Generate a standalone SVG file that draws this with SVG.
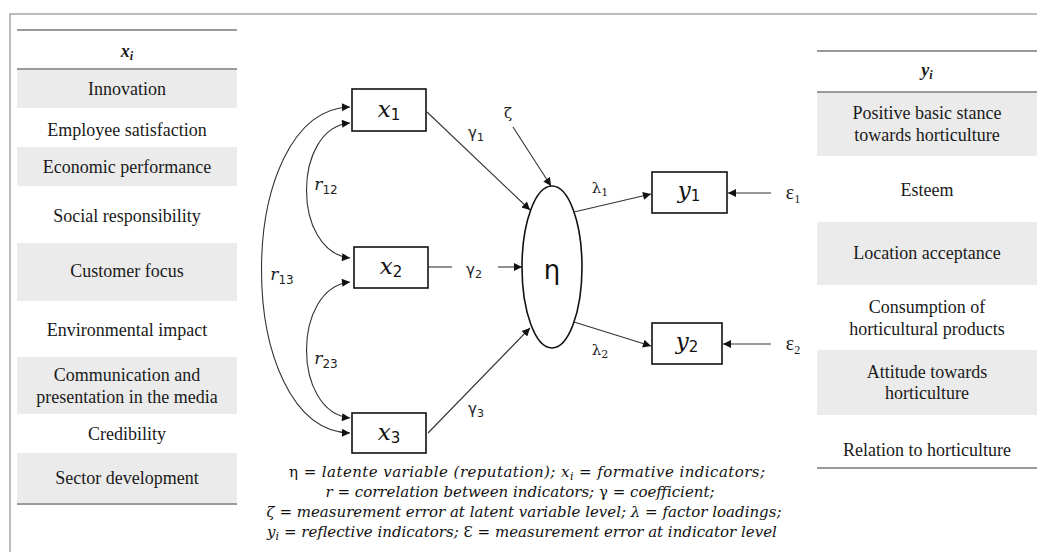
<svg xmlns="http://www.w3.org/2000/svg" width="1037" height="552" viewBox="0 0 1037 552">
<defs>
<marker id="ah" viewBox="0 0 10 10" refX="10" refY="5" markerWidth="10" markerHeight="8" markerUnits="userSpaceOnUse" orient="auto-start-reverse"><path d="M0,0 L10,5 L0,10 z" fill="#111"/></marker>
<style>
.tt{font-family:"Liberation Serif",serif;font-size:18px;fill:#1a1a1a;text-anchor:middle}
.band{fill:#ebebeb}
.rule{stroke:#9a9a9a;stroke-width:2;fill:none}
.box{fill:#fff;stroke:#111;stroke-width:1.6}
.var{font-family:"DejaVu Serif",serif;font-style:italic;font-size:23px;fill:#111;text-anchor:middle}
.sub{font-family:"DejaVu Sans",sans-serif;font-style:normal;font-size:15px}
.lbl{font-family:"DejaVu Sans",sans-serif;font-size:15px;fill:#222;text-anchor:middle}
.rl{font-family:"DejaVu Serif",serif;font-style:italic;font-size:17px;fill:#222;text-anchor:middle}
.rsub{font-family:"DejaVu Sans",sans-serif;font-style:normal;font-size:12px}
.cap{font-family:"DejaVu Serif",serif;font-style:italic;font-size:15px;fill:#111;text-anchor:middle}
.up{font-style:normal}
.conn{stroke:#333;stroke-width:1.1;fill:none;marker-end:url(#ah)}
.dbl{stroke:#333;stroke-width:1.1;fill:none;marker-start:url(#ah);marker-end:url(#ah)}
</style>
</defs>
<rect width="1037" height="552" fill="#fff"/>
<path d="M10,552 V14 H1037" stroke="#a6a6a6" stroke-width="1.5" fill="none"/>

<g id="table-x">
<rect class="band" x="17" y="69" width="220" height="39"/>
<rect class="band" x="17" y="147" width="220" height="39"/>
<rect class="band" x="17" y="243" width="220" height="58"/>
<rect class="band" x="17" y="357" width="220" height="57"/>
<rect class="band" x="17" y="453" width="220" height="51"/>
<line class="rule" x1="17" y1="30" x2="237" y2="30"/>
<line class="rule" x1="17" y1="69" x2="237" y2="69"/>
<line class="rule" x1="17" y1="504" x2="237" y2="504"/>
<text class="tt" x="127" y="57" style="font-weight:bold;font-style:italic">x<tspan font-size="12" dy="3">i</tspan></text>
<text class="tt" x="127" y="95">Innovation</text>
<text class="tt" x="127" y="136">Employee satisfaction</text>
<text class="tt" x="127" y="173">Economic performance</text>
<text class="tt" x="127" y="222">Social responsibility</text>
<text class="tt" x="127" y="277">Customer focus</text>
<text class="tt" x="127" y="336">Environmental impact</text>
<text class="tt" x="127" y="381">Communication and</text>
<text class="tt" x="127" y="403">presentation in the media</text>
<text class="tt" x="127" y="440">Credibility</text>
<text class="tt" x="127" y="484">Sector development</text>
</g>

<g id="table-y">
<rect class="band" x="817" y="92" width="220" height="64"/>
<rect class="band" x="817" y="222" width="220" height="63"/>
<rect class="band" x="817" y="350" width="220" height="65"/>
<line class="rule" x1="817" y1="51" x2="1037" y2="51"/>
<line class="rule" x1="817" y1="92" x2="1037" y2="92"/>
<line class="rule" x1="817" y1="468" x2="1037" y2="468"/>
<text class="tt" x="927" y="76" style="font-weight:bold;font-style:italic">y<tspan font-size="12" dy="3">i</tspan></text>
<text class="tt" x="927" y="119">Positive basic stance</text>
<text class="tt" x="927" y="141">towards horticulture</text>
<text class="tt" x="927" y="196">Esteem</text>
<text class="tt" x="927" y="259">Location acceptance</text>
<text class="tt" x="927" y="313">Consumption of</text>
<text class="tt" x="927" y="335">horticultural products</text>
<text class="tt" x="927" y="378">Attitude towards</text>
<text class="tt" x="927" y="399">horticulture</text>
<text class="tt" x="927" y="456">Relation to horticulture</text>
</g>

<g id="connectors">
<path class="dbl" d="M350,123 C292,128 292,252 350,258"/>
<path class="dbl" d="M350,282 C292,288 292,412 350,418"/>
<path class="dbl" d="M350,107 C232,110 232,430 350,433"/>
<path class="conn" d="M427,112 L530,210"/>
<path d="M428,267 H452" stroke="#333" stroke-width="1.1"/>
<path class="conn" d="M498,267 H522"/>
<path class="conn" d="M428,433 L530,328"/>
<path class="conn" d="M513,127 L551,186"/>
<path class="conn" d="M574,212 L651,194"/>
<path class="conn" d="M574,322 L651,346"/>
<path class="conn" d="M771,193 H728"/>
<path class="conn" d="M771,344 H723"/>
<text class="rl" x="326" y="190">r<tspan class="rsub" dy="4">12</tspan></text>
<text class="rl" x="282" y="280">r<tspan class="rsub" dy="4">13</tspan></text>
<text class="rl" x="326" y="364">r<tspan class="rsub" dy="4">23</tspan></text>
<text class="lbl" x="476" y="138">γ<tspan font-size="11" dy="3">1</tspan></text>
<text class="lbl" x="474" y="275">γ<tspan font-size="11" dy="3">2</tspan></text>
<text class="lbl" x="476" y="414">γ<tspan font-size="11" dy="3">3</tspan></text>
<text class="lbl" x="508" y="118" style="font-family:'DejaVu Serif',serif">ζ</text>
<text class="lbl" x="600" y="193" style="font-family:'DejaVu Serif',serif">λ<tspan font-size="11" dy="3">1</tspan></text>
<text class="lbl" x="600" y="355" style="font-family:'DejaVu Serif',serif">λ<tspan font-size="11" dy="3">2</tspan></text>
<text class="tt" x="793" y="199" style="font-size:20px">ε<tspan font-size="12" dy="4">1</tspan></text>
<text class="tt" x="793" y="350" style="font-size:20px">ε<tspan font-size="12" dy="4">2</tspan></text>
</g>

<g id="x1"><rect class="box" x="352" y="89" width="74" height="42"/><text class="var" x="389" y="117">x<tspan class="sub" dy="3">1</tspan></text></g>
<g id="x2"><rect class="box" x="354" y="247" width="74" height="41"/><text class="var" x="391" y="274">x<tspan class="sub" dy="3">2</tspan></text></g>
<g id="x3"><rect class="box" x="352" y="413" width="74" height="40"/><text class="var" x="389" y="440">x<tspan class="sub" dy="3">3</tspan></text></g>
<g id="eta"><ellipse cx="552" cy="267" rx="30" ry="81" fill="#fff" stroke="#111" stroke-width="1.6"/><text x="552" y="279" font-family="DejaVu Sans, sans-serif" font-size="26" fill="#111" text-anchor="middle">η</text></g>
<g id="y1"><rect class="box" x="652" y="172" width="75" height="41"/><text class="var" x="689" y="198">y<tspan class="sub" dy="3">1</tspan></text></g>
<g id="y2"><rect class="box" x="652" y="323" width="70" height="41"/><text class="var" x="687" y="349">y<tspan class="sub" dy="3">2</tspan></text></g>

<g id="caption">
<text class="cap" x="527" y="477" textLength="476"><tspan class="up">η =</tspan> latente variable (reputation); x<tspan font-size="11" dy="3">i</tspan><tspan dy="-3"> = formative indicators;</tspan></text>
<text class="cap" x="520" y="497">r = correlation between indicators; <tspan class="up">γ</tspan> = coefficient;</text>
<text class="cap" x="524" y="517">ζ = measurement error at latent variable level; λ = factor loadings;</text>
<text class="cap" x="522" y="537">y<tspan font-size="11" dy="3">i</tspan><tspan dy="-3"> = reflective indicators; </tspan><tspan class="up">Ɛ</tspan> = measurement error at indicator level</text>
</g>
</svg>
